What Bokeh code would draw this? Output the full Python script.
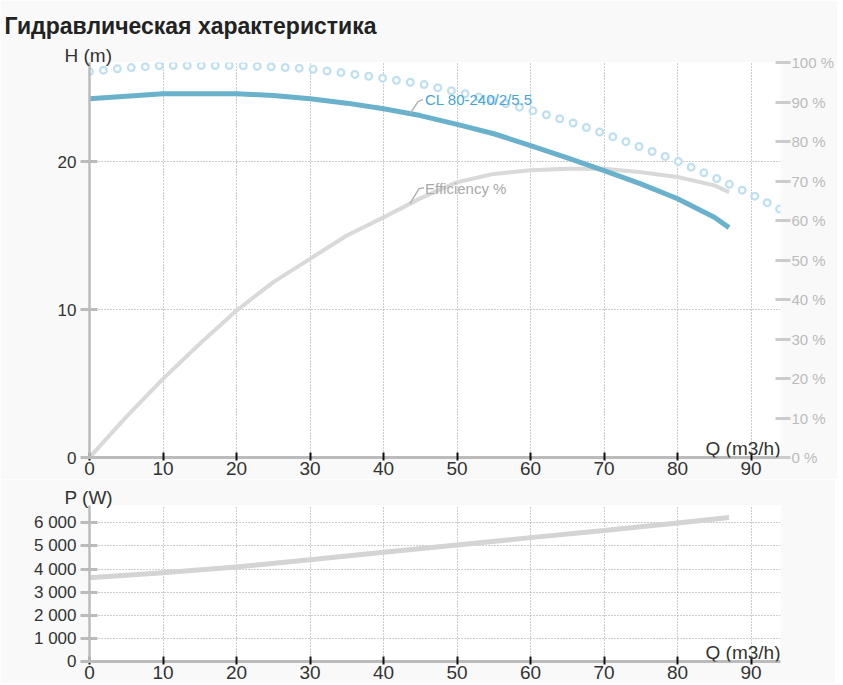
from bokeh.plotting import figure
from bokeh.models import Range1d, LinearAxis, FixedTicker, Label, Title
from bokeh.layouts import column
from bokeh.embed import file_html
from bokeh.resources import INLINE
import numpy as np

# ---------------- data ----------------
TITLE = "Гидравлическая характеристика"
PUMP_NAME = "CL 80-240/2/5.5"
EFF_NAME = "Efficiency %"
H_LABEL = "H (m)"
P_LABEL = "P (W)"
Q_LABEL = "Q (m3/h)"

Q_TICKS = [0, 10, 20, 30, 40, 50, 60, 70, 80, 90]
H_TICKS = [0, 10, 20]
PCT_TICKS = [0, 10, 20, 30, 40, 50, 60, 70, 80, 90, 100]
PCT_LABELS = ["0 %", "10 %", "20 %", "30 %", "40 %", "50 %", "60 %", "70 %", "80 %", "90 %", "100 %"]
P_TICKS = [0, 1000, 2000, 3000, 4000, 5000, 6000]
P_LABELS = ["0", "1 000", "2 000", "3 000", "4 000", "5 000", "6 000"]

# pump curve H(Q) and efficiency (%)
Q = [0, 5, 10, 15, 20, 25, 30, 35, 40, 45, 50, 55, 60, 65, 70, 75, 80, 85, 87]
H = [24.27, 24.44, 24.6, 24.6, 24.6, 24.49, 24.27, 23.97, 23.59, 23.13, 22.53,
     21.9, 21.1, 20.27, 19.41, 18.51, 17.5, 16.25, 15.55]
EFF = [0, 10.3, 19.9, 28.8, 37.2, 44.4, 50.3, 56.2, 60.8, 65.6, 69.7,
       71.8, 72.7, 73.1, 73.1, 72.2, 71.0, 68.9, 67.2]

# dotted (ring) curve
Q_MAX = [0, 5, 10, 15, 20, 25, 30, 35, 40, 45, 50, 55, 60, 65, 70, 75, 80, 85, 90, 94]
H_MAX = [26.11, 26.35, 26.52, 26.52, 26.52, 26.43, 26.28, 25.99, 25.65, 25.28, 24.73,
         24.15, 23.5, 22.76, 21.92, 20.99, 20.05, 18.94, 17.81, 16.77]

# power
Q_P = [0, 10, 20, 30, 40, 50, 60, 70, 80, 87]
P = [3620, 3840, 4090, 4400, 4730, 5040, 5360, 5670, 5990, 6230]

LABEL_Q = 43.6  # where the curve labels are attached

# ---------------- layout ----------------
FONT = "Liberation Sans"
FW = 691
FH1 = 395
FH2 = 156
LB, RB = 89, 55
TB1, TB2, BB = 62, 26, 22
X_END = 94
H_END = 26.72
P_END = 6750

BLUE = "#6ab1cc"
RING = "#bfe0f1"
EFF_C = "#d9d9d9"
GRID_C = "#9a9a9a"
AX_C = "#bbbbbb"


def base_fig(fh, tb, y_end, ylab, lab_standoff):
    p = figure(frame_width=FW, frame_height=fh,
               min_border_left=LB, min_border_right=RB,
               min_border_top=tb, min_border_bottom=BB,
               x_range=Range1d(0, X_END), y_range=Range1d(0, y_end),
               output_backend="svg", toolbar_location=None,
               background_fill_color="white", border_fill_color="#f9f9f9",
               outline_line_color=None)
    xa = p.xaxis[0]
    xa.ticker = FixedTicker(ticks=Q_TICKS)
    xa.axis_line_color = AX_C
    xa.axis_line_width = 3
    xa.major_tick_line_color = "#111111"
    xa.major_tick_line_width = 2
    xa.major_tick_in = 5
    xa.major_tick_out = 3
    xa.minor_tick_line_color = None
    xa.major_label_standoff = 1
    xa.major_label_text_font = FONT
    xa.major_label_text_font_size = "19px"
    xa.major_label_text_color = "#333333"

    ya = p.yaxis[0]
    ya.axis_line_color = AX_C
    ya.axis_line_width = 2.5
    ya.major_tick_line_color = AX_C
    ya.major_tick_line_width = 3
    ya.major_tick_in = 8
    ya.major_tick_out = 9
    ya.minor_tick_line_color = None
    ya.major_label_standoff = 4
    ya.major_label_text_font = FONT
    ya.major_label_text_font_size = "17px"
    ya.major_label_text_color = "#333333"

    p.xgrid.ticker = FixedTicker(ticks=Q_TICKS)
    for g in (p.xgrid[0], p.ygrid[0]):
        g.grid_line_color = GRID_C
        g.grid_line_dash = "1 2"
        g.grid_line_width = 1

    p.add_layout(Label(x=FW, y=9, x_units="screen", y_units="screen", text=Q_LABEL,
                       text_align="right", text_baseline="alphabetic",
                       text_font=FONT, text_font_size="19px", text_color="#333333"))
    p.add_layout(Title(text=ylab, align="left", offset=-25, standoff=lab_standoff,
                       text_font=FONT, text_font_size="19px", text_font_style="normal",
                       text_color="#333333"), "above")
    return p


# ---------------- top chart ----------------
p1 = base_fig(FH1, TB1, H_END, H_LABEL, -7)
p1.yaxis[0].ticker = FixedTicker(ticks=H_TICKS)
p1.ygrid.ticker = FixedTicker(ticks=H_TICKS)

p1.extra_y_ranges = {"eff": Range1d(0, 100)}
ra = LinearAxis(y_range_name="eff", ticker=FixedTicker(ticks=PCT_TICKS),
                major_label_overrides={t: l for t, l in zip(PCT_TICKS, PCT_LABELS)})
ra.axis_line_color = None
ra.major_tick_line_color = "#cccccc"
ra.major_tick_line_width = 3
ra.major_tick_in = 5
ra.major_tick_out = 10
ra.minor_tick_line_color = None
ra.major_label_standoff = 1
ra.major_label_text_font = FONT
ra.major_label_text_font_size = "15px"
ra.major_label_text_color = "#bbbbbb"
p1.add_layout(ra, "right")

# ring curve: thick dotted light blue with white centres
p1.line(Q_MAX, H_MAX, line_color=RING, line_width=9, line_dash="0 14", line_cap="round")
p1.line(Q_MAX, H_MAX, line_color="white", line_width=4.5, line_dash="0 14", line_cap="round")
# efficiency
p1.line(Q, EFF, y_range_name="eff", line_color=EFF_C, line_width=4, line_join="round")
# head
p1.line(Q, H, line_color=BLUE, line_width=5, line_join="round")

# curve labels with leader lines
px_q = FW / X_END
px_h = FH1 / H_END
px_e = FH1 / 100.0
h_a = float(np.interp(LABEL_Q, Q, H))
e_a = float(np.interp(LABEL_Q, Q, EFF))
lead_h = [(0, 0), (8, 12), (13, 14)]
lead_e = [(0, 0), (9, 15), (14, 16)]
p1.line([LABEL_Q + dx / px_q for dx, dy in lead_h], [h_a + dy / px_h for dx, dy in lead_h],
        line_color="#b3b3b3", line_width=1.5)
p1.line([LABEL_Q + dx / px_q for dx, dy in lead_e], [e_a + dy / px_e for dx, dy in lead_e],
        y_range_name="eff", line_color="#b3b3b3", line_width=1.5)
p1.add_layout(Label(x=LABEL_Q, y=h_a, x_offset=15, y_offset=14, text=PUMP_NAME,
                    text_align="left", text_baseline="middle", text_font=FONT,
                    text_font_size="15px", text_color="#45a5d6"))
p1.add_layout(Label(x=LABEL_Q, y=e_a, y_range_name="eff", x_offset=15, y_offset=15,
                    text=EFF_NAME, text_align="left", text_baseline="middle",
                    text_font=FONT, text_font_size="15px", text_color="#aaaaaa"))

# main title (stacked above the "H (m)" title)
p1.add_layout(Title(text=TITLE, align="left", vertical_align="top", offset=-85, standoff=12,
                    text_line_height=0.6,
                    text_font=FONT, text_font_size="23px", text_font_style="bold",
                    text_color="#222222"), "above")

# ---------------- bottom chart ----------------
p2 = base_fig(FH2, TB2, P_END, P_LABEL, -5)
p2.yaxis[0].ticker = FixedTicker(ticks=P_TICKS)
p2.yaxis[0].major_label_overrides = {t: l for t, l in zip(P_TICKS, P_LABELS)}
p2.ygrid.ticker = FixedTicker(ticks=P_TICKS)
p2.line(Q_P, P, line_color="#d4d4d4", line_width=5, line_join="round")

layout = column(p1, p2, spacing=0)
open("out.html", "w").write(file_html(layout, INLINE))
